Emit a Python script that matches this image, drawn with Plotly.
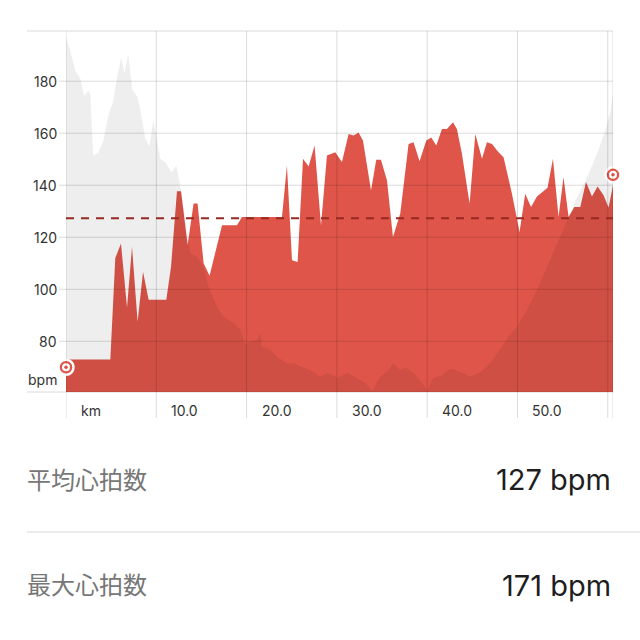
import plotly.graph_objects as go

# ---- data ----
hr_km = [0, 4.91, 5.46, 6.09, 6.76, 7.31, 7.93, 8.53, 9.15, 11.11, 11.63, 12.29, 12.74,
         13.47, 14.13, 14.57, 15.24, 15.9, 17.28, 18.94, 19.49, 23.92, 24.47, 25.03,
         25.65, 26.25, 26.87, 27.53, 28.24, 28.9, 29.82, 30.56, 31.3, 31.85, 32.4,
         32.89, 33.78, 34.36, 34.88, 35.55, 36.21, 37.02, 37.94, 38.49, 39.16, 39.9,
         40.45, 41.01, 41.64, 42.19, 42.86, 43.3, 43.85, 44.7, 45.33, 46.07, 46.62,
         47.18, 47.9, 48.46, 49.39, 50.23, 50.86, 51.5, 52.16, 52.71, 53.33, 53.93,
         54.55, 55.1, 55.66, 56.3, 56.96, 57.59, 58.25, 58.87, 59.53, 60.09, 60.58]
hr_bpm = [73, 73, 112, 117.6, 93, 116.3, 87.5, 106.7, 96, 96, 108.6, 137.7, 137.7,
          117, 133, 133, 110, 105.2, 124.6, 124.6, 127.8, 127.8, 147.6, 111.2,
          110.5, 150.2, 147.2, 155.3, 124.5, 151.4, 152.7, 148.9, 159.7, 159.1, 160.3,
          157.2, 138, 149.8, 149.8, 141.8, 120.1, 129.1, 155.9, 156.5, 149.2, 157.2,
          158.4, 155.3, 161.6, 161.6, 164.2, 161.5, 152.1, 132.9, 159.7, 150.2, 156.5,
          155.9, 152.7, 150.8, 136.7, 122, 136.7, 131.6, 135.7, 137.4, 139, 150.2,
          127.8, 143.1, 127.8, 131.6, 131.6, 141.2, 135.7, 139.5, 136.1, 131.4, 140]

elev_km = [0, 0.48, 1.03, 1.58, 2.02, 2.47, 2.69, 3.02, 3.58, 4.13, 4.68, 5.24, 5.68,
           6.12, 6.46, 6.9, 7.34, 7.9, 8.23, 8.78, 9.23, 9.67, 10.0, 10.44, 11.11,
           11.66, 11.99, 12.21, 12.66, 13.2, 13.77, 14.51, 15.24, 15.79, 16.72, 17.45,
           18.56, 19.3, 19.86, 21.15, 21.52, 21.71, 22.63, 23.37, 24.47, 25.2, 25.95,
           27.06, 28.16, 28.9, 30.15, 31.15, 32.15, 33.15, 33.92, 34.7, 35.7, 36.25,
           37.0, 37.69, 38.68, 39.46, 40.0, 40.67, 41.67, 42.55, 43.2, 43.87, 44.75,
           45.86, 46.97, 48.07, 49.0, 49.93, 51.05, 52.16, 53.27, 54.38, 55.49, 56.6,
           57.71, 58.8, 59.72, 60.27, 60.58]
elev_val = [197, 191.6, 184, 181, 174.4, 176.3, 175, 151.4, 152.6, 157, 166.8, 172.5,
            182, 189, 183.2, 190.5, 176.7, 174, 169, 158, 155, 164.8, 159, 150.3, 148.4,
            145, 146.4, 147.6, 139.8, 128, 114, 112.5, 108.6, 101, 93.3, 89.5, 87, 84.4,
            79.3, 80.5, 83.1, 78, 76.7, 74.1, 71.6, 71.6, 70.3, 69, 66.5, 67.8, 66, 68,
            66, 64, 61, 66, 69, 71.7, 69, 70, 67, 64, 61, 66, 67, 69.5, 69, 68, 66.5, 68,
            71.7, 76.7, 81.8, 85.6, 92, 99.7, 108.6, 117.6, 126.5, 135.4, 143.1, 152,
            161, 168, 175]

avg_bpm = 127.3
dot_km = [0, 60.58]
dot_bpm = [70, 144]

y_ticks = [80, 100, 120, 140, 160, 180]
y_unit_label = "bpm"
y_unit_pos = 65.5
x_ticks = [0, 10, 20, 30, 40, 50]
x_tick_labels = ["km", "10.0", "20.0", "30.0", "40.0", "50.0"]
x_grid = [0, 10, 20, 30, 40, 50, 60, 60.58]

stat_labels = ["平均心拍数", "最大心拍数"]
stat_values = ["127 bpm", "171 bpm"]

# ---- styling ----
RED = "#df5549"
X_RANGE = [0, 60.58]
Y_RANGE = [60.5, 199.3]
W, H = 640, 640
ML, MR, MT, MB = 66, 27, 31, 248
PW = W - ML - MR
PH = H - MT - MB


def px_to_paper_x(px):
    return (px - ML) / PW


def px_to_paper_y(py):
    return (H - MB - py) / PH


fig = go.Figure()

fig.add_trace(go.Scatter(x=hr_km, y=hr_bpm, mode="lines", fill="tozeroy",
                         fillcolor=RED, line=dict(width=0, color=RED),
                         hoverinfo="skip", showlegend=False))
fig.add_trace(go.Scatter(x=elev_km, y=elev_val, mode="lines", fill="tozeroy",
                         fillcolor="rgba(0,0,0,0.065)", line=dict(width=0, color="rgba(0,0,0,0)"),
                         hoverinfo="skip", showlegend=False))

shapes = []
grid_col = "rgba(0,0,0,0.14)"
for v in y_ticks:
    shapes.append(dict(type="line", xref="paper", yref="y", x0=px_to_paper_x(59), x1=1,
                       y0=v, y1=v, line=dict(color=grid_col, width=1), layer="above"))
for yy in [0, 1]:
    shapes.append(dict(type="line", xref="paper", yref="paper", x0=px_to_paper_x(27), x1=1,
                       y0=yy, y1=yy, line=dict(color=grid_col, width=1), layer="above"))
for v in x_grid:
    shapes.append(dict(type="line", xref="x", yref="paper", x0=v, x1=v,
                       y0=px_to_paper_y(418), y1=1, line=dict(color=grid_col, width=1),
                       layer="above"))
shapes.append(dict(type="line", xref="x", yref="y", x0=X_RANGE[0], x1=X_RANGE[1],
                   y0=avg_bpm, y1=avg_bpm,
                   line=dict(color="#962a22", width=1.8, dash="8px,7px"), layer="above"))
# divider between stats
shapes.append(dict(type="line", xref="paper", yref="paper", x0=px_to_paper_x(27),
                   x1=px_to_paper_x(640), y0=px_to_paper_y(532), y1=px_to_paper_y(532),
                   line=dict(color="#e4e4e4", width=1.5)))

# end dots
fig.add_trace(go.Scatter(x=dot_km, y=dot_bpm, mode="markers", cliponaxis=False,
                         marker=dict(size=15, color=RED, line=dict(color="white", width=2.5)),
                         hoverinfo="skip", showlegend=False))
fig.add_trace(go.Scatter(x=dot_km, y=dot_bpm, mode="markers", cliponaxis=False,
                         marker=dict(size=8, color="white", line=dict(width=0)),
                         hoverinfo="skip", showlegend=False))
fig.add_trace(go.Scatter(x=dot_km, y=dot_bpm, mode="markers", cliponaxis=False,
                         marker=dict(size=3.5, color=RED, line=dict(width=0)),
                         hoverinfo="skip", showlegend=False))

ann = []
tick_font = dict(family="Inter, Roboto, sans-serif", size=14, color="#333333")
for v in y_ticks:
    ann.append(dict(x=0, y=v, xref="paper", yref="y", text=str(v), showarrow=False,
                    xanchor="right", yanchor="middle", xshift=-7, font=tick_font))
ann.append(dict(x=0, y=y_unit_pos, xref="paper", yref="y", text=y_unit_label,
                showarrow=False, xanchor="right", yanchor="middle", xshift=-7,
                font=tick_font))
for v, t in zip(x_ticks, x_tick_labels):
    ann.append(dict(x=v, y=0, xref="x", yref="paper", text=t, showarrow=False,
                    xanchor="left", yanchor="middle", xshift=13, yshift=-18,
                    font=tick_font))

label_font = dict(family="Noto Sans CJK JP, sans-serif", size=24, color="#777777")
value_font = dict(family="Inter, Roboto, sans-serif", size=29, color="#1e1e1e")
for i, (lab, val) in enumerate(zip(stat_labels, stat_values)):
    yl = [478, 583][i]
    yv = [480, 585][i]
    ann.append(dict(x=px_to_paper_x(25), y=px_to_paper_y(yl), xref="paper", yref="paper",
                    text=lab, showarrow=False, xanchor="left", yanchor="middle",
                    font=label_font))
    ann.append(dict(x=px_to_paper_x(613), y=px_to_paper_y(yv), xref="paper", yref="paper",
                    text=val, showarrow=False, xanchor="right", yanchor="middle",
                    font=value_font))

fig.update_layout(
    width=W, height=H,
    margin=dict(l=ML, r=MR, t=MT, b=MB, pad=0),
    paper_bgcolor="white", plot_bgcolor="white",
    showlegend=False,
    xaxis=dict(range=X_RANGE, showgrid=False, zeroline=False, showticklabels=False,
               showline=False, ticks="", fixedrange=True),
    yaxis=dict(range=Y_RANGE, showgrid=False, zeroline=False, showticklabels=False,
               showline=False, ticks="", fixedrange=True),
    shapes=shapes, annotations=ann,
)

fig.write_html("out.html", config={"displayModeBar": False},
               post_script="document.body.style.margin='0';document.body.style.padding='0';")
